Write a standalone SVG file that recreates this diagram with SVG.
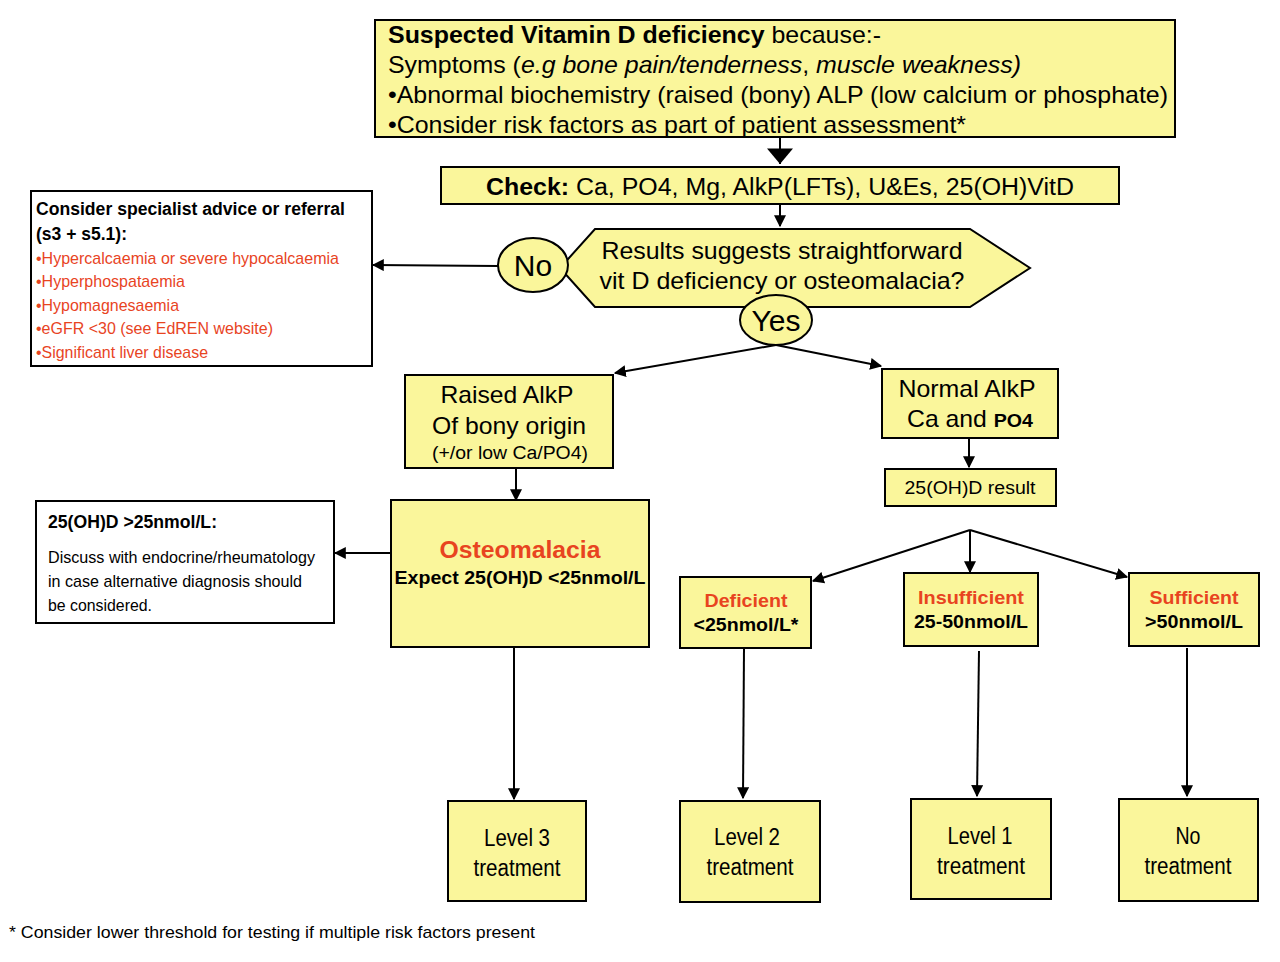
<svg xmlns="http://www.w3.org/2000/svg" width="1280" height="962" viewBox="0 0 1280 962">
<style>
.box{fill:#FAF69B;stroke:#000;stroke-width:2}
.wbox{fill:#fff;stroke:#000;stroke-width:2}
text{font-family:"Liberation Sans",Arial,sans-serif;fill:#000}
.b{font-weight:bold}
.red{fill:#E8441F}
.c{text-anchor:middle}
.ln{stroke:#000;stroke-width:2;fill:none}
</style>
<defs>
<marker id="ahs" viewBox="0 0 10 10" refX="9" refY="5" markerWidth="12" markerHeight="12" orient="auto" markerUnits="userSpaceOnUse">
<path d="M0,0 L10,5 L0,10 z" fill="#000"/>
</marker>
<marker id="big" viewBox="0 0 10 10" refX="6" refY="5" markerWidth="26" markerHeight="26" orient="auto" markerUnits="userSpaceOnUse">
<path d="M0,0 L6,5 L0,10 z" fill="#000"/>
</marker>
</defs>

<g id="connectors">
<line class="ln" x1="780" y1="137" x2="780" y2="164" stroke-width="5" marker-end="url(#big)"/>
<line class="ln" x1="780" y1="204" x2="780" y2="226" marker-end="url(#ahs)"/>
<line class="ln" x1="498" y1="266" x2="373" y2="265" stroke-width="3" marker-end="url(#ahs)"/>
<line class="ln" x1="776" y1="345" x2="615" y2="373" marker-end="url(#ahs)"/>
<line class="ln" x1="776" y1="345" x2="881" y2="366" marker-end="url(#ahs)"/>
<line class="ln" x1="516" y1="468" x2="516" y2="500" marker-end="url(#ahs)"/>
<line class="ln" x1="969" y1="438" x2="969" y2="467" marker-end="url(#ahs)"/>
<line class="ln" x1="391" y1="553" x2="335" y2="553" marker-end="url(#ahs)"/>
<line class="ln" x1="970" y1="530" x2="813" y2="581" marker-end="url(#ahs)"/>
<line class="ln" x1="970" y1="530" x2="970" y2="572" marker-end="url(#ahs)"/>
<line class="ln" x1="970" y1="530" x2="1127" y2="577" marker-end="url(#ahs)"/>
<line class="ln" x1="514" y1="647" x2="514" y2="799" marker-end="url(#ahs)"/>
<line class="ln" x1="744" y1="648" x2="743" y2="798" marker-end="url(#ahs)"/>
<line class="ln" x1="979" y1="651" x2="977" y2="796" marker-end="url(#ahs)"/>
<line class="ln" x1="1187" y1="648" x2="1187" y2="796" marker-end="url(#ahs)"/>
</g>

<g id="suspected">
<rect class="box" x="375" y="20" width="800" height="117"/>
<text x="388" y="43" font-size="24" textLength="493" lengthAdjust="spacingAndGlyphs"><tspan class="b">Suspected Vitamin D deficiency</tspan> because:-</text>
<text x="388" y="73" font-size="24" textLength="633" lengthAdjust="spacingAndGlyphs">Symptoms (<tspan font-style="italic">e.g bone pain/tenderness</tspan>, <tspan font-style="italic">muscle weakness)</tspan></text>
<text x="388" y="103" font-size="24" textLength="780" lengthAdjust="spacingAndGlyphs">•Abnormal biochemistry (raised (bony) ALP (low calcium or phosphate)</text>
<text x="388" y="133" font-size="24" textLength="578" lengthAdjust="spacingAndGlyphs">•Consider risk factors as part of patient assessment*</text>
</g>

<g id="check">
<rect class="box" x="441" y="167" width="678" height="37"/>
<text x="780" y="195" class="c" font-size="23" textLength="588" lengthAdjust="spacingAndGlyphs"><tspan class="b">Check:</tspan> Ca, PO4, Mg, AlkP(LFTs), U&amp;Es, 25(OH)VitD</text>
</g>

<g id="specialist">
<rect class="wbox" x="31" y="191" width="341" height="175"/>
<text x="36" y="215" class="b" font-size="18" textLength="309" lengthAdjust="spacingAndGlyphs">Consider specialist advice or referral</text>
<text x="36" y="240" class="b" font-size="18" textLength="91" lengthAdjust="spacingAndGlyphs">(s3 + s5.1):</text>
<text x="36" y="264" class="red" font-size="17" textLength="303" lengthAdjust="spacingAndGlyphs">•Hypercalcaemia or severe hypocalcaemia</text>
<text x="36" y="287" class="red" font-size="17" textLength="149" lengthAdjust="spacingAndGlyphs">•Hyperphospataemia</text>
<text x="36" y="311" class="red" font-size="17" textLength="143" lengthAdjust="spacingAndGlyphs">•Hypomagnesaemia</text>
<text x="36" y="334" class="red" font-size="17" textLength="237" lengthAdjust="spacingAndGlyphs">•eGFR &lt;30 (see EdREN website)</text>
<text x="36" y="358" class="red" font-size="17" textLength="172" lengthAdjust="spacingAndGlyphs">•Significant liver disease</text>
</g>

<g id="decision">
<polygon class="box" points="595,229 970,229 1030,268 970,307 595,307 560,268"/>
<text x="782" y="259" class="c" font-size="24" textLength="361" lengthAdjust="spacingAndGlyphs">Results suggests straightforward</text>
<text x="782" y="289" class="c" font-size="24" textLength="365" lengthAdjust="spacingAndGlyphs">vit D deficiency or osteomalacia?</text>
</g>

<g id="no">
<ellipse class="box" cx="533" cy="265" rx="35" ry="27"/>
<text x="533" y="276" class="c" font-size="30">No</text>
</g>

<g id="yes">
<ellipse class="box" cx="776" cy="320" rx="36" ry="25"/>
<text x="776" y="331" class="c" font-size="30">Yes</text>
</g>

<g id="raised">
<rect class="box" x="405" y="375" width="208" height="93"/>
<text x="507" y="403" class="c" font-size="24" textLength="133" lengthAdjust="spacingAndGlyphs">Raised AlkP</text>
<text x="509" y="434" class="c" font-size="24" textLength="154" lengthAdjust="spacingAndGlyphs">Of bony origin</text>
<text x="510" y="459" class="c" font-size="18" textLength="156" lengthAdjust="spacingAndGlyphs">(+/or low Ca/PO4)</text>
</g>

<g id="normal">
<rect class="box" x="882" y="369" width="176" height="69"/>
<text x="967" y="397" class="c" font-size="24" textLength="137" lengthAdjust="spacingAndGlyphs">Normal AlkP</text>
<text x="970" y="427" class="c" font-size="24" textLength="126" lengthAdjust="spacingAndGlyphs">Ca and <tspan class="b" font-size="19">PO4</tspan></text>
</g>

<g id="result">
<rect class="box" x="885" y="469" width="171" height="37"/>
<text x="970" y="494" class="c" font-size="18" textLength="131" lengthAdjust="spacingAndGlyphs">25(OH)D result</text>
</g>

<g id="osteomalacia">
<rect class="box" x="391" y="500" width="258" height="147"/>
<text x="520" y="558" class="c b red" font-size="23" textLength="161" lengthAdjust="spacingAndGlyphs">Osteomalacia</text>
<text x="520" y="584" class="c b" font-size="18" textLength="251" lengthAdjust="spacingAndGlyphs">Expect 25(OH)D &lt;25nmol/L</text>
</g>

<g id="discuss">
<rect class="wbox" x="36" y="501" width="298" height="122"/>
<text x="48" y="528" class="b" font-size="18" textLength="169" lengthAdjust="spacingAndGlyphs">25(OH)D &gt;25nmol/L:</text>
<text x="48" y="563" font-size="17" textLength="267" lengthAdjust="spacingAndGlyphs">Discuss with endocrine/rheumatology</text>
<text x="48" y="587" font-size="17" textLength="254" lengthAdjust="spacingAndGlyphs">in case alternative diagnosis should</text>
<text x="48" y="611" font-size="17" textLength="104" lengthAdjust="spacingAndGlyphs">be considered.</text>
</g>

<g id="deficient">
<rect class="box" x="680" y="577" width="131" height="71"/>
<text x="746" y="607" class="c b red" font-size="19" textLength="83" lengthAdjust="spacingAndGlyphs">Deficient</text>
<text x="746" y="631" class="c b" font-size="19" textLength="105" lengthAdjust="spacingAndGlyphs">&lt;25nmol/L*</text>
</g>

<g id="insufficient">
<rect class="box" x="904" y="573" width="134" height="73"/>
<text x="971" y="604" class="c b red" font-size="19" textLength="106" lengthAdjust="spacingAndGlyphs">Insufficient</text>
<text x="971" y="628" class="c b" font-size="19" textLength="114" lengthAdjust="spacingAndGlyphs">25-50nmol/L</text>
</g>

<g id="sufficient">
<rect class="box" x="1129" y="573" width="130" height="73"/>
<text x="1194" y="604" class="c b red" font-size="19" textLength="89" lengthAdjust="spacingAndGlyphs">Sufficient</text>
<text x="1194" y="628" class="c b" font-size="19" textLength="98" lengthAdjust="spacingAndGlyphs">&gt;50nmol/L</text>
</g>

<g id="level3">
<rect class="box" x="448" y="801" width="138" height="100"/>
<text x="517" y="846" class="c" font-size="23" textLength="66" lengthAdjust="spacingAndGlyphs">Level 3</text>
<text x="517" y="876" class="c" font-size="23" textLength="87" lengthAdjust="spacingAndGlyphs">treatment</text>
</g>

<g id="level2">
<rect class="box" x="680" y="801" width="140" height="101"/>
<text x="747" y="845" class="c" font-size="23" textLength="66" lengthAdjust="spacingAndGlyphs">Level 2</text>
<text x="750" y="875" class="c" font-size="23" textLength="87" lengthAdjust="spacingAndGlyphs">treatment</text>
</g>

<g id="level1">
<rect class="box" x="911" y="799" width="140" height="100"/>
<text x="980" y="844" class="c" font-size="23" textLength="65" lengthAdjust="spacingAndGlyphs">Level 1</text>
<text x="981" y="874" class="c" font-size="23" textLength="88" lengthAdjust="spacingAndGlyphs">treatment</text>
</g>

<g id="notreatment">
<rect class="box" x="1119" y="799" width="139" height="102"/>
<text x="1188" y="844" class="c" font-size="23" textLength="25" lengthAdjust="spacingAndGlyphs">No</text>
<text x="1188" y="874" class="c" font-size="23" textLength="87" lengthAdjust="spacingAndGlyphs">treatment</text>
</g>

<g id="footnote">
<text x="9" y="938" font-size="17" textLength="526" lengthAdjust="spacingAndGlyphs">* Consider lower threshold for testing if multiple risk factors present</text>
</g>
</svg>
